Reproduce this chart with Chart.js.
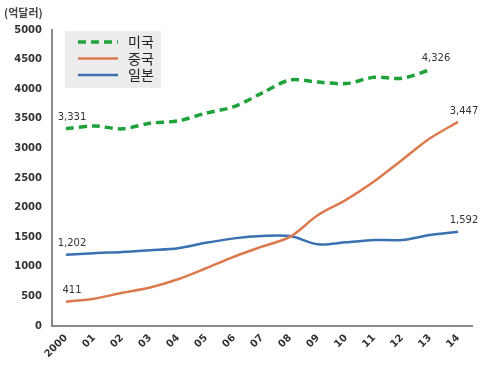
<!DOCTYPE html>
<html>
<head>
<meta charset="utf-8">
<script src="https://cdn.jsdelivr.net/npm/chart.js@4/dist/chart.umd.min.js"></script>
<style>
  body { margin: 0; background: #fff; }
</style>
</head>
<body>
<canvas id="tradeChart" width="481" height="372"></canvas>
<script>
var years = ['2000', '01', '02', '03', '04', '05', '06', '07', '08', '09', '10', '11', '12', '13', '14'];
var usa = [3331, 3380, 3330, 3425, 3465, 3595, 3705, 3935, 4155, 4120, 4095, 4200, 4185, 4326, null];
var china = [411, 460, 560, 650, 790, 975, 1170, 1340, 1505, 1875, 2130, 2440, 2805, 3170, 3447];
var japan = [1202, 1230, 1250, 1280, 1313, 1405, 1480, 1520, 1520, 1380, 1414, 1453, 1453, 1537, 1592];
var names = ['미국', '중국', '일본'];
var yTicks = [0, 500, 1000, 1500, 2000, 2500, 3000, 3500, 4000, 4500, 5000];

var COLORS = ['#1fa23a', '#dc7a4e', '#3b70b1'];

// labels on first / last points
var endLabels = {
  id: 'endLabels',
  afterDatasetsDraw: function(chart) {
    var ctx = chart.ctx;
    ctx.save();
    ctx.font = '10px "DejaVu Sans"';
    ctx.fillStyle = '#333';
    ctx.textAlign = 'center';
    ctx.textBaseline = 'bottom';
    chart.data.datasets.forEach(function(ds, di) {
      var meta = chart.getDatasetMeta(di);
      var first = 0, last = ds.data.length - 1;
      while (ds.data[last] == null) last--;
      [first, last].forEach(function(idx) {
        var p = meta.data[idx];
        var txt = ds.data[idx].toLocaleString('en-US');
        ctx.fillText(txt, p.x + 6, p.y - 6);
      });
    });
    ctx.restore();
  }
};

// unit label and legend box inside the plot
var extras = {
  id: 'extras',
  afterDraw: function(chart) {
    var ctx = chart.ctx;
    ctx.save();
    ctx.font = 'bold 11px "Noto Sans CJK KR"';
    ctx.fillStyle = '#444';
    ctx.textBaseline = 'middle';
    ctx.fillText('(억달러)', 4, 13);

    ctx.fillStyle = '#ececec';
    ctx.fillRect(65, 31, 96, 57);
    chart.data.datasets.forEach(function(ds, i) {
      var y = 42 + i * 16.5;
      ctx.beginPath();
      ctx.strokeStyle = ds.borderColor;
      ctx.lineWidth = ds.borderWidth;
      ctx.setLineDash(ds.borderDash || []);
      ctx.moveTo(78, y);
      ctx.lineTo(118, y);
      ctx.stroke();
      ctx.setLineDash([]);
      ctx.fillStyle = '#222';
      ctx.font = '14px "Noto Sans CJK KR"';
      ctx.fillText(ds.label, 128, y);
    });
    ctx.restore();
  }
};

var ctx = document.getElementById('tradeChart');
var chart = new Chart(ctx, {
  type: 'line',
  data: {
    labels: years,
    datasets: [
      { label: names[0], data: usa, borderColor: COLORS[0], borderWidth: 3.5, borderDash: [8, 5], pointRadius: 0, tension: 0.3, spanGaps: false },
      { label: names[1], data: china, borderColor: COLORS[1], borderWidth: 2.5, pointRadius: 0, tension: 0.3 },
      { label: names[2], data: japan, borderColor: COLORS[2], borderWidth: 2.5, pointRadius: 0, tension: 0.3 }
    ]
  },
  options: {
    responsive: false,
    animation: false,
    layout: { padding: { top: 30, right: 9, left: 0, bottom: 0 } },
    plugins: {
      legend: { display: false },
      tooltip: { enabled: false }
    },
    scales: {
      x: {
        offset: true,
        grid: { display: false, drawTicks: false },
        border: { color: '#8a8a8a', width: 2 },
        ticks: {
          color: '#333',
          font: { family: '"DejaVu Sans"', size: 10, weight: 'bold' },
          maxRotation: 45, minRotation: 45, padding: 6
        },
        afterFit: function(s) { s.height = 46; }
      },
      y: {
        min: 0, max: 5000,
        grid: { display: false, drawTicks: false },
        border: { color: '#8a8a8a', width: 2 },
        afterBuildTicks: function(s) { s.ticks = yTicks.map(function(v) { return { value: v }; }); },
        ticks: {
          color: '#333',
          font: { family: '"DejaVu Sans"', size: 10, weight: 'bold' },
          padding: 10,
          callback: function(v) { return String(v); }
        },
        afterFit: function(s) { s.width = 52; }
      }
    }
  },
  plugins: [endLabels, extras]
});
</script>
</body>
</html>
